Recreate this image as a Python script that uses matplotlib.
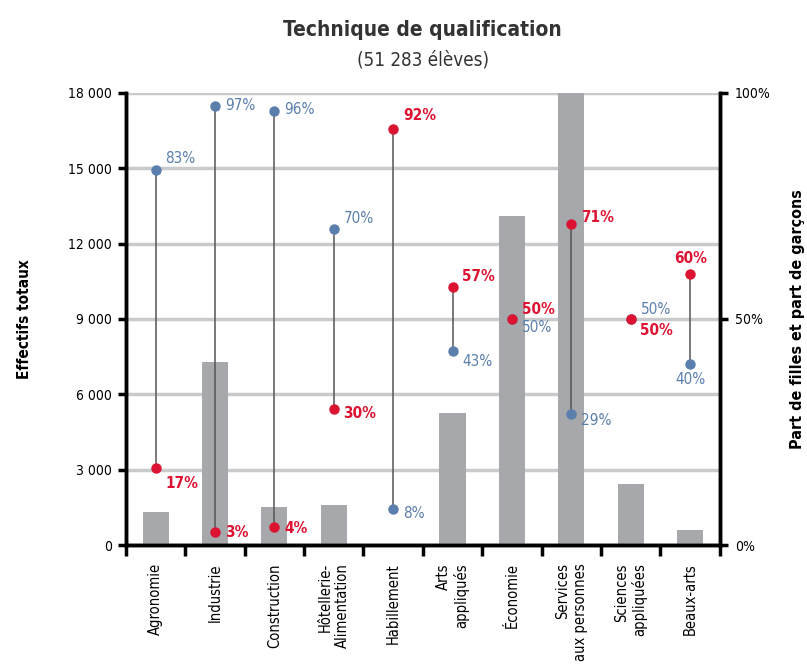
import matplotlib.pyplot as plt
import numpy as np

# Data
categories = ['Agronomie', 'Industrie', 'Construction', 'Hôtellerie-\nAlimentation', 'Habillement',
              'Arts\nappliqués', 'Économie', 'Services\naux personnes', 'Sciences\nappliquées', 'Beaux-arts']
effectifs = [1300, 7300, 1500, 1600, 0, 5250, 13100, 18000, 2450, 600]
part_filles = [17, 3, 4, 30, 92, 57, 50, 71, 50, 60]
part_garcons = [83, 97, 96, 70, 8, 43, 50, 29, 50, 40]

# label offsets (points) for each dot
off_filles = [(7, -11), (7, -1), (7, -1), (7, -3), (7, 10), (7, 8), (7, 7), (7, 5), (7, -8), (0, 11)]
off_garcons = [(7, 8), (7, 1), (7, 1), (7, 7), (7, -3), (7, -8), (7, -6), (7, -5), (7, 7), (0, -11)]

RED = '#dc1432'
BLUE = '#5b7fad'
BAR = '#a7a8ab'
GRID = '#c9cacc'

plt.rcParams['font.family'] = ['DejaVu Sans']
plt.rcParams['font.stretch'] = 'condensed'

fig = plt.figure(figsize=(8.07, 6.68), dpi=100)
ax1 = fig.add_axes([0.156, 0.184, 0.736, 0.677])
ax2 = ax1.twinx()

x = np.arange(len(categories))

# Bars
ax1.bar(x, effectifs, width=0.44, color=BAR, zorder=2)
ax1.set_ylim(0, 18000)
ax1.set_xlim(-0.5, len(categories) - 0.5)
ax1.set_yticks(np.arange(0, 18001, 3000))
ax1.set_yticklabels(['{:,}'.format(v).replace(',', ' ') for v in range(0, 18001, 3000)])
ax1.yaxis.grid(True, color=GRID, linewidth=2.5, zorder=0)
ax1.set_axisbelow(True)

# Dots and connectors
ax2.set_ylim(0, 100)
for i in range(len(categories)):
	f = part_filles[i]
	g = part_garcons[i]
	ax2.plot([x[i], x[i]], [f, g], color='#555555', linewidth=1.1, zorder=3)
	ax2.plot(x[i], g, 'o', color=BLUE, markersize=6.5, zorder=4)
	ax2.plot(x[i], f, 'o', color=RED, markersize=6.5, zorder=5)
	ha = 'left' if off_garcons[i][0] != 0 else 'center'
	ax2.annotate('{}%'.format(g), (x[i], g), xytext=off_garcons[i], textcoords='offset points',
		color=BLUE, fontsize=11, ha=ha, va='center')
	ha = 'left' if off_filles[i][0] != 0 else 'center'
	ax2.annotate('{}%'.format(f), (x[i], f), xytext=off_filles[i], textcoords='offset points',
		color=RED, fontsize=11, fontweight='bold', ha=ha, va='center')

ax2.set_yticks([0, 50, 100])
ax2.set_yticklabels(['0%', '50%', '100%'])

# Axes style
for ax in (ax1, ax2):
	ax.spines['top'].set_visible(False)
	ax.spines['left'].set_linewidth(2.5)
	ax.spines['bottom'].set_linewidth(2.5)
	ax.spines['right'].set_linewidth(2.5)
ax1.tick_params(axis='y', width=2.5, length=6, labelsize=10, pad=4)
ax2.tick_params(axis='y', width=2.5, length=6, labelsize=10, pad=5)

ax1.set_xticks(np.arange(-0.5, len(categories), 1.0))
ax1.set_xticklabels([])
ax1.set_xticks(x, minor=True)
ax1.set_xticklabels(categories, minor=True, rotation=90, ha='center', va='top',
	multialignment='right', fontsize=10.5)
ax1.tick_params(axis='x', which='major', width=2.5, length=8)
ax1.tick_params(axis='x', which='minor', length=0, pad=13)

ax1.set_ylabel('Effectifs totaux', fontsize=11, fontweight='bold', labelpad=26)
ax2.set_ylabel('Part de filles et part de garçons', fontsize=11.5, fontweight='bold', labelpad=14)

fig.text(0.524, 0.955, 'Technique de qualification', ha='center', va='center', fontsize=15, fontweight='bold', color='#333333')
fig.text(0.524, 0.910, '(51 283 élèves)', ha='center', va='center', fontsize=13.5, color='#333333')

plt.savefig('out.png', dpi=100)
plt.close()
